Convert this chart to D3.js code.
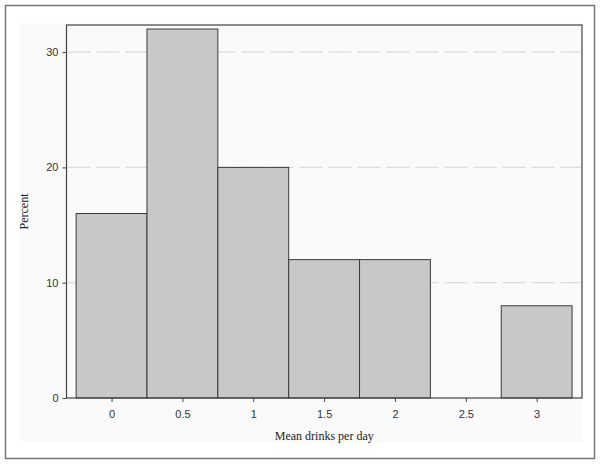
<!DOCTYPE html>
<html><head><meta charset="utf-8">
<script src="https://cdn.jsdelivr.net/npm/d3@7"></script>
<style>body{margin:0;background:#fff}</style>
</head><body>
<script>
const binCenters = [0, 0.5, 1, 1.5, 2, 2.5, 3];
const percents = [16, 32, 20, 12, 12, 0, 8];
const xTicks = [0, 0.5, 1, 1.5, 2, 2.5, 3];
const yTicks = [0, 10, 20, 30];
const binWidth = 0.5;

const W = 602, H = 466;
const svg = d3.select("body").append("svg").attr("width", W).attr("height", H);

// outer frame
svg.append("rect").attr("x", 5.5).attr("y", 5.5).attr("width", 589).attr("height", 453)
  .attr("fill", "#fff").attr("stroke", "#777").attr("stroke-width", 1.5);
// light graph background
svg.append("rect").attr("x", 20).attr("y", 23).attr("width", 563).attr("height", 419).attr("fill", "#fafafa");

const L = 66.5, R = 582, T = 25, B = 398;
const x = d3.scaleLinear().domain([-0.318, 3.32]).range([L, R]);
const y = d3.scaleLinear().domain([0, 32.35]).range([B, T]);

svg.append("rect").attr("x", L).attr("y", T).attr("width", R - L).attr("height", B - T).attr("fill", "#fafafa");

// grid
svg.append("g").selectAll("line").data(yTicks.filter(d => d > 0)).join("line")
  .attr("x1", L + 1).attr("x2", R - 1).attr("y1", d => y(d)).attr("y2", d => y(d))
  .attr("stroke", "#dcdcdc").attr("stroke-width", 1.2).attr("stroke-dasharray", "23,6");

// bars
svg.append("g").selectAll("rect").data(binCenters.map((c, i) => ({c, v: percents[i]})).filter(d => d.v > 0)).join("rect")
  .attr("x", d => x(d.c - binWidth / 2)).attr("width", d => x(d.c + binWidth / 2) - x(d.c - binWidth / 2))
  .attr("y", d => y(d.v)).attr("height", d => y(0) - y(d.v))
  .attr("fill", "#c8c8c8").attr("stroke", "#3a3a3a").attr("stroke-width", 1);

// frame
svg.append("rect").attr("x", L).attr("y", T).attr("width", R - L).attr("height", B - T)
  .attr("fill", "none").attr("stroke", "#444").attr("stroke-width", 1.2);

// axes
const yAxis = d3.axisLeft(y).tickValues(yTicks).tickSize(4).tickPadding(4).tickFormat(d3.format("d"));
const gy = svg.append("g").attr("transform", `translate(${L},0)`).call(yAxis);
gy.select(".domain").remove();
gy.selectAll("line").attr("stroke", "#444");
gy.selectAll("text").attr("font-family", "Arial, 'Liberation Sans', sans-serif").attr("font-size", 11).attr("fill", "#333");

const xAxis = d3.axisBottom(x).tickValues(xTicks).tickSize(4).tickPadding(8).tickFormat(d => String(d));
const gx = svg.append("g").attr("transform", `translate(0,${B})`).call(xAxis);
gx.select(".domain").remove();
gx.selectAll("line").attr("stroke", "#444");
gx.selectAll("text").attr("font-family", "Arial, 'Liberation Sans', sans-serif").attr("font-size", 11).attr("fill", "#333");

// titles
svg.append("text").attr("x", (L + R) / 2).attr("y", 440).attr("text-anchor", "middle")
  .attr("font-family", "'Times New Roman', 'Liberation Serif', serif").attr("font-size", 12).attr("fill", "#222")
  .text("Mean drinks per day");
svg.append("text").attr("transform", `translate(28,${(T + B) / 2}) rotate(-90)`).attr("text-anchor", "middle")
  .attr("font-family", "'Times New Roman', 'Liberation Serif', serif").attr("font-size", 12).attr("fill", "#222")
  .text("Percent");
</script>
</body></html>
